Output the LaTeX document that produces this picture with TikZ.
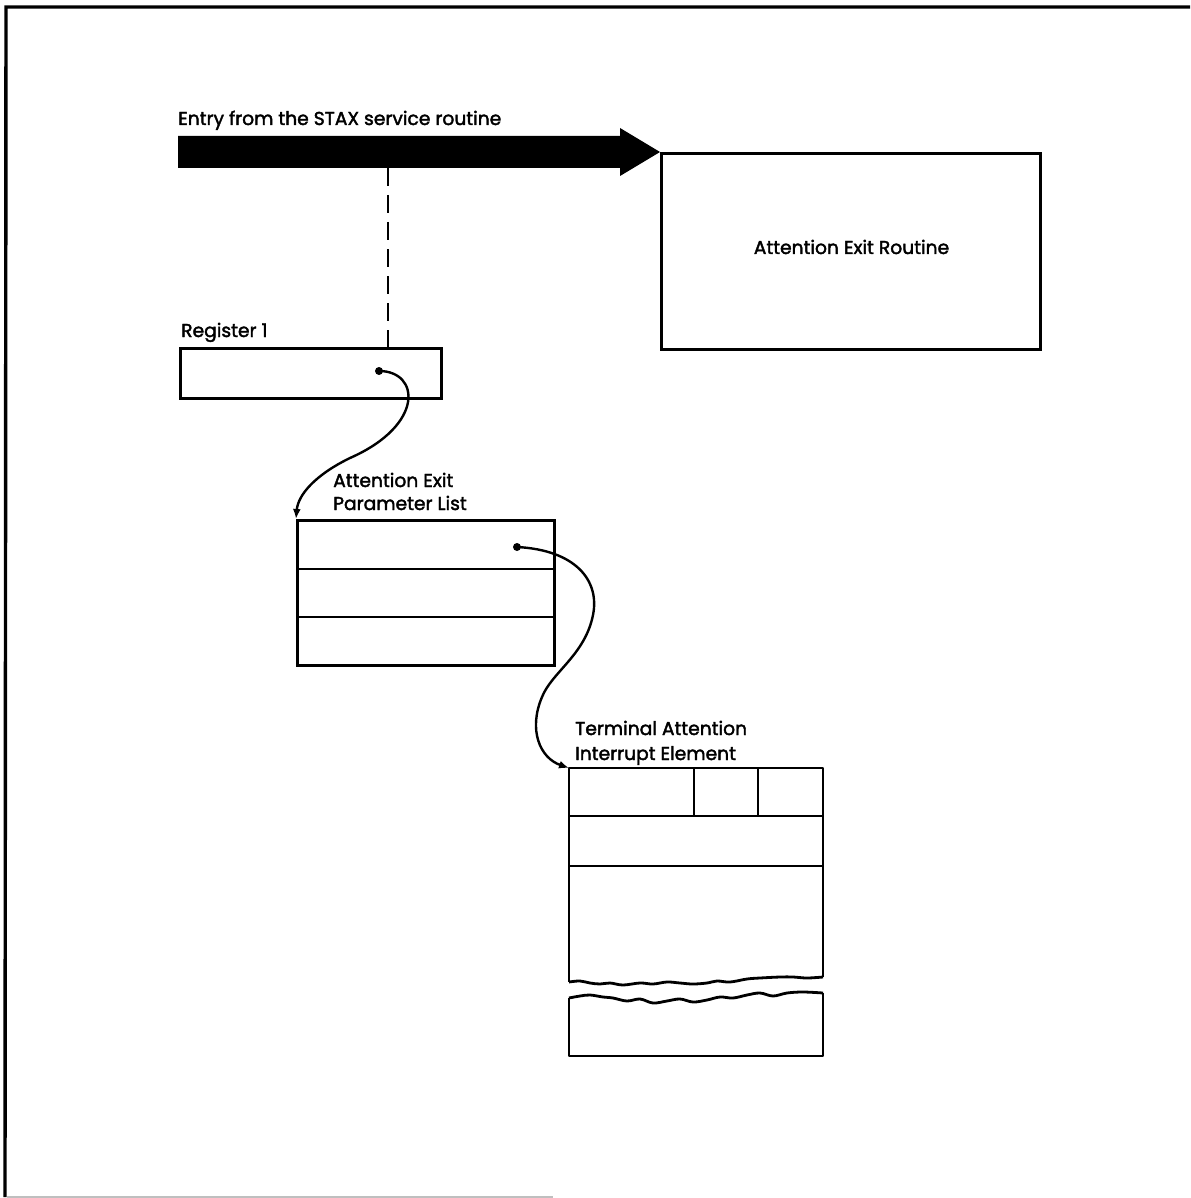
\documentclass[tikz,border=0pt]{standalone}
\usepackage{fontspec}
\setmainfont{Poppins}[BoldFont=Poppins,BoldFeatures={FakeBold=2}]
\usetikzlibrary{arrows.meta}
\begin{document}
\begin{tikzpicture}[x=1pt,y=-1pt,
  box/.style={draw,line width=2.6pt,inner sep=0pt,anchor=north west},
  lbl/.style={inner sep=0pt,anchor=base west,font=\fontsize{18.7}{22}\selectfont\bfseries},
  ptr/.style={line width=2.4pt,-{Latex[length=10pt,width=8pt]}},
  dotmark/.style={circle,fill,inner sep=0pt,minimum size=8pt}]
\useasboundingbox (0,0) rectangle (1190,1198);
% frame
\draw[line width=3.4pt] (1190,7) -- (6,7) -- (5,1197);
\draw[gray!50,line width=1.5pt] (7,1197) -- (553,1197);
% labels
\node[lbl] (entrylbl) at (178,125) {Entry from the STAX service routine};
% boxes
\node[box,minimum width=379pt,minimum height=196pt] (exit) at (660,152) {};
\node[lbl,anchor=base] (exitlbl) at (851.5,254) {Attention Exit Routine};
% big arrow
\fill (178,136) -- (620,136) -- (620,128) -- (exit.north west) -- (620,176) -- (620,168) -- (178,168) -- cycle;
% register
\node[lbl] (reglbl) at (181,337) {Register 1};
\node[box,minimum width=261pt,minimum height=50pt] (reg) at (179,347) {};
\coordinate (dtop) at (388,168);
\draw[dashed,line width=2pt,dash pattern=on 18pt off 9pt] (dtop) -- (dtop |- reg.north);
% parameter list
\node[lbl] (plbl1) at (333,487) {Attention Exit};
\node[lbl] (plbl2) at (333,510) {Parameter List};
\node[box,minimum width=257pt,minimum height=145pt] (param) at (296,519) {};
\draw[line width=2.6pt] (296,569) -- (553,569);
\draw[line width=2.6pt] (296,617) -- (553,617);
% TAIE
\node[lbl] (tlbl1) at (575,735) {Terminal Attention};
\node[lbl] (tlbl2) at (575,760) {Interrupt Element};
\node[inner sep=0pt,anchor=north west,minimum width=254pt,minimum height=288pt] (taie) at (569,768) {};
\draw[line width=2.6pt,line join=round] (569,982)
  -- (569,768) -- (823,768) -- (823,977);
\draw[line width=2.6pt] (569,816) -- (823,816);
\draw[line width=2.6pt] (569,866) -- (823,866);
\draw[line width=1.8pt] (694,768) -- (694,816);
\draw[line width=1.8pt] (758,768) -- (758,816);
% wavy break lines
\draw[line width=2.8pt,line join=round] plot[smooth,tension=0.6] coordinates {
 (569,982) (580,981) (590,983) (600,984) (610,983) (623,985) (640,983) (653,984) (667,982) (680,983) (693,984) (707,983) (717,981) (730,982) (747,979) (760,978) (780,977) (793,977) (807,978) (823,977)};
\draw[line width=2.8pt,line join=round] plot[smooth,tension=0.6] coordinates {
 (569,998) (580,996) (590,995) (603,997) (613,998) (627,1001) (640,999) (653,1003) (667,1001) (680,999) (693,1002) (707,1000) (720,997) (733,998) (747,995) (760,993) (773,996) (787,993) (803,992) (823,993)};
\draw[line width=2.6pt,line join=round] (569,998) -- (569,1056) -- (823,1056) -- (823,993);
% pointers
\node[dotmark] (regdot) at (379,371) {};
\node[dotmark] (pdot) at (517,547) {};
\draw[ptr] (regdot.center) .. controls (420,371) and (425,425) .. (350,458)
  .. controls (315,475) and (298,495) .. (param.north west);
\draw[ptr] (pdot.center) .. controls (575,550) and (600,580) .. (593,615)
  .. controls (585,655) and (552,672) .. (542,697)
  .. controls (528,730) and (540,758) .. (taie.north west);
\end{tikzpicture}
\end{document}
